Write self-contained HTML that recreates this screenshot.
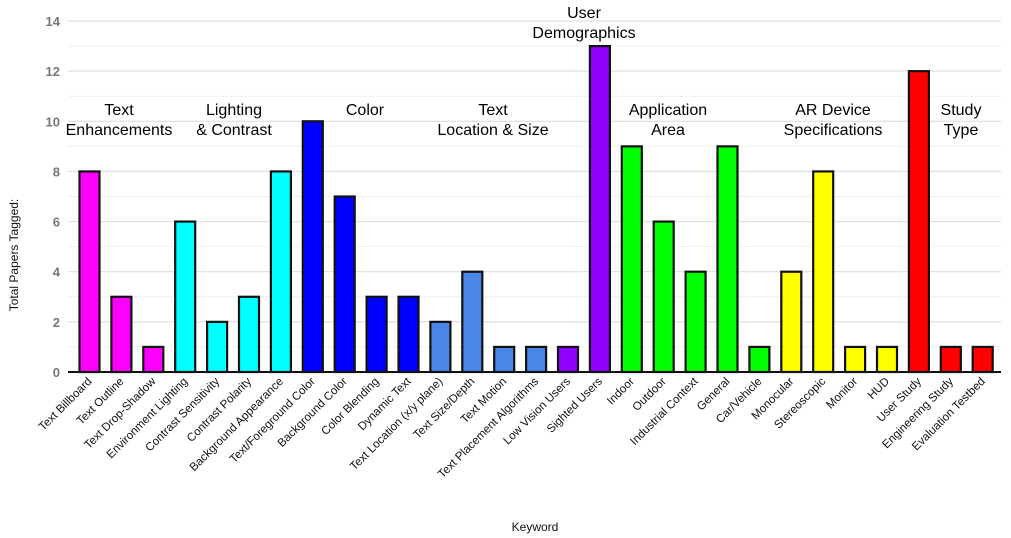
<!DOCTYPE html>
<html><head><meta charset="utf-8"><style>
body{margin:0;background:#fff;}
svg{display:block;font-family:"Liberation Sans",Arial,sans-serif;}
</style></head><body>
<svg width="1011" height="538" xmlns="http://www.w3.org/2000/svg">
<g id="grid"></g>
<g id="bars"></g>
<g id="lbl"></g>
<script>
var ns="http://www.w3.org/2000/svg";
function el(p,t,a,txt){var e=document.createElementNS(ns,t);for(var k in a)e.setAttribute(k,a[k]);if(txt!=null)e.textContent=txt;p.appendChild(e);return e;}
var svg=document.querySelector('svg');
var y0=372,u=(372-21)/14;
var g=document.getElementById('grid');
for(var v=1;v<=14;v++){var y=y0-v*u;el(g,'line',{x1:68,x2:1001,y1:y,y2:y,stroke:v%2?'#efefef':'#d9d9d9','stroke-width':1});}
for(var v=0;v<=14;v+=2){el(g,'text',{x:60,y:y0-v*u+5,'text-anchor':'end','font-size':13,'font-weight':'bold',fill:'#777'},String(v));}
var names=["Text Billboard","Text Outline","Text Drop-Shadow","Environment Lighting","Contrast Sensitivity","Contrast Polarity","Background Appearance","Text/Foreground Color","Background Color","Color Blending","Dynamic Text","Text Location (x/y plane)","Text Size/Depth","Text Motion","Text Placement Algorithms","Low Vision Users","Sighted Users","Indoor","Outdoor","Industrial Context","General","Car/Vehicle","Monocular","Stereoscopic","Monitor","HUD","User Study","Engineering Study","Evaluation Testbed"];
var vals=[8,3,1,6,2,3,8,10,7,3,3,2,4,1,1,1,13,9,6,4,9,1,4,8,1,1,12,1,1];
var cols=[];
for(var i=0;i<29;i++){cols.push(i<3?'#ff00ff':i<7?'#00ffff':i<11?'#0000ff':i<15?'#4a86e8':i<17?'#8f00ff':i<22?'#00ff00':i<26?'#ffff00':'#ff0000');}
var b=document.getElementById('bars'),l=document.getElementById('lbl');
for(var i=0;i<29;i++){var cx=89.5+i*31.9;var h=vals[i]*u;
el(b,'rect',{x:cx-10,y:y0-h,width:20,height:h,fill:cols[i],stroke:'#111','stroke-width':2.2});
el(l,'text',{x:cx+3,y:382,'text-anchor':'end','font-size':11.6,fill:'#111',transform:'rotate(-45 '+(cx+3)+' 382)'},names[i]);}
el(svg,'line',{x1:68,x2:1001,y1:y0,y2:y0,stroke:'#111','stroke-width':2});
var groups=[[119,109,"Text","Enhancements"],[234,109,"Lighting","& Contrast"],[365,109,"Color",null],[493,109,"Text","Location & Size"],[584,12,"User","Demographics"],[668,109,"Application","Area"],[833,109,"AR Device","Specifications"],[961,109,"Study","Type"]];
groups.forEach(function(q){el(svg,'text',{x:q[0],y:q[1]+6,'text-anchor':'middle','font-size':16,fill:'#000'},q[2]);if(q[3])el(svg,'text',{x:q[0],y:q[1]+26,'text-anchor':'middle','font-size':16,fill:'#000'},q[3]);});
el(svg,'text',{x:535,y:531,'text-anchor':'middle','font-size':12,fill:'#111'},'Keyword');
el(svg,'text',{x:18,y:255,'text-anchor':'middle','font-size':12,fill:'#111',transform:'rotate(-90 18 255)'},'Total Papers Tagged:');
</script>
</svg>
</body></html>
